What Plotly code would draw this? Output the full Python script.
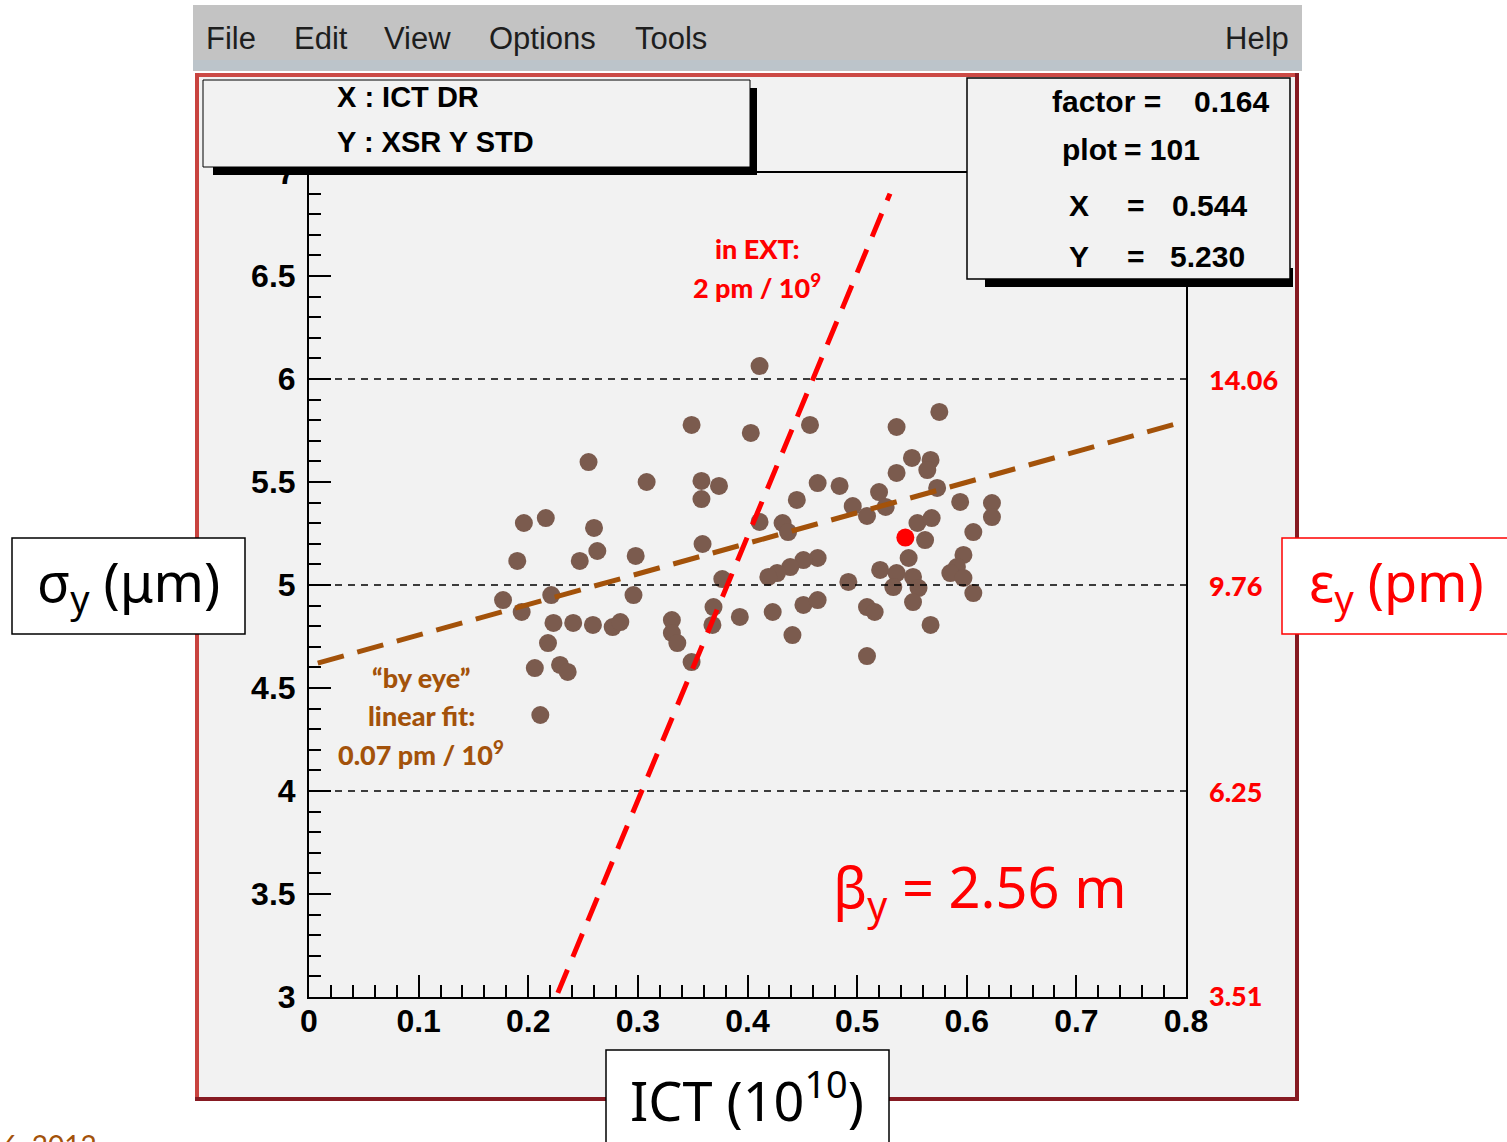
import plotly.graph_objects as go

# ---- data -------------------------------------------------------------
ict = [0.411, 0.349, 0.403, 0.457, 0.536, 0.575, 0.255, 0.308, 0.358, 0.374,
       0.358, 0.464, 0.484, 0.445, 0.520, 0.496, 0.509, 0.526, 0.536, 0.550,
       0.567, 0.564, 0.573, 0.594, 0.623, 0.623, 0.411, 0.432, 0.437, 0.555,
       0.568, 0.562, 0.606, 0.464, 0.451, 0.439, 0.427, 0.419, 0.547, 0.597,
       0.591, 0.585, 0.597, 0.606, 0.521, 0.536, 0.551, 0.556, 0.551, 0.492,
       0.533, 0.393, 0.423, 0.451, 0.464, 0.509, 0.516, 0.441, 0.567, 0.509,
       0.196, 0.216, 0.260, 0.190, 0.247, 0.263, 0.298, 0.359, 0.377, 0.177,
       0.194, 0.221, 0.296, 0.223, 0.241, 0.259, 0.277, 0.284, 0.218, 0.331,
       0.331, 0.336, 0.369, 0.368, 0.206, 0.229, 0.236, 0.349, 0.211]
sigma_y = [6.063, 5.777, 5.738, 5.777, 5.767, 5.840, 5.597, 5.500, 5.505, 5.481,
           5.417, 5.495, 5.481, 5.413, 5.451, 5.383, 5.335, 5.379, 5.544, 5.617,
           5.607, 5.558, 5.471, 5.403, 5.398, 5.330, 5.306, 5.301, 5.257, 5.301,
           5.325, 5.218, 5.257, 5.131, 5.121, 5.087, 5.058, 5.039, 5.131, 5.146,
           5.087, 5.058, 5.034, 4.961, 5.073, 5.058, 5.039, 4.985, 4.917, 5.015,
           4.990, 4.845, 4.869, 4.903, 4.927, 4.893, 4.869, 4.757, 4.806, 4.655,
           5.301, 5.325, 5.277, 5.117, 5.117, 5.165, 5.141, 5.199, 5.029, 4.927,
           4.869, 4.951, 4.951, 4.816, 4.816, 4.806, 4.796, 4.820, 4.718, 4.830,
           4.767, 4.718, 4.893, 4.806, 4.597, 4.612, 4.578, 4.626, 4.369]

sel_x = [0.544]
sel_y = [5.230]

ext_x = [0.227, 0.530]          # in EXT: 2 pm / 1e9
ext_y = [3.02, 6.90]
fit_x = [0.008, 0.797]          # "by eye" linear fit
fit_y = [4.621, 5.791]

ref_sigma = [4, 5, 6]
beta_y = 2.56
eps_ticks = [3, 4, 5, 6]
eps_labels = ["3.51", "6.25", "9.76", "14.06"]

menu_items = ["File", "Edit", "View", "Options", "Tools"]
menu_x = [204, 292, 382, 487, 633]

# ---- geometry helpers (pixel -> paper) --------------------------------
W, H = 1507, 1142
L, R, T, B = 309, 1186, 173, 997


def px(x):
    return (x - L) / (R - L)


def py(y):
    return (B - y) / (B - T)


shapes = []
annos = []


def rect(x0, y0, x1, y1, fill=None, line=None, lw=0, layer="above"):
    shapes.append(dict(type="rect", xref="paper", yref="paper",
                       x0=px(x0), x1=px(x1), y0=py(y1), y1=py(y0),
                       fillcolor=fill or "rgba(0,0,0,0)",
                       line=dict(color=line or "rgba(0,0,0,0)", width=lw),
                       layer=layer))


def seg(x0, y0, x1, y1, color, lw, layer="above"):
    shapes.append(dict(type="line", xref="paper", yref="paper",
                       x0=px(x0), x1=px(x1), y0=py(y0), y1=py(y1),
                       line=dict(color=color, width=lw), layer=layer))


def text(s, x, y, size, color="black", family="Liberation Sans",
         weight="normal", xanchor="left", yanchor="middle"):
    annos.append(dict(text=s, x=px(x), y=py(y), xref="paper", yref="paper",
                      xanchor=xanchor, yanchor=yanchor, showarrow=False,
                      font=dict(size=size, color=color, family=family,
                                weight=weight)))


# canvas + menu bar
rect(193, 5, 1302, 71, fill="#c3c3c3", layer="below")
rect(193, 60, 1302, 70, fill="#bcc4ca", layer="below")
rect(195, 73, 1299, 1101, fill="#f2f2f2", layer="below")
seg(195, 75, 1299, 75, "#cc4a45", 4)
seg(197, 73, 197, 1101, "#c8433f", 4)
seg(1297, 73, 1297, 1101, "#861a22", 4)
seg(195, 1099, 1299, 1099, "#861a22", 4)

for s, x in zip(menu_items, menu_x):
    text(s, x, 39, 31, color="#1e1e1e")
text("Help", 1291, 39, 31, color="#1e1e1e", xanchor="right")

# info boxes
rect(213, 88, 757, 175, fill="black")
rect(203, 80, 750, 167, fill="#f2f2f2", line="black", lw=1)
text("X : ICT DR", 335, 97, 29, weight="bold")
text("Y : XSR Y STD", 335, 142, 29, weight="bold")

rect(985, 268, 1293, 287, fill="black")
rect(967, 78, 1290, 279, fill="#f2f2f2", line="black", lw=1.5)
text("factor =", 1050, 101, 30, weight="bold")
text("0.164", 1192, 101, 30, weight="bold")
text("plot", 1060, 149, 30, weight="bold")
text("= 101", 1122, 149, 30, weight="bold")
text("X", 1067, 205, 30, weight="bold")
text("=", 1125, 205, 30, weight="bold")
text("0.544", 1170, 205, 30, weight="bold")
text("Y", 1067, 256, 30, weight="bold")
text("=", 1125, 256, 30, weight="bold")
text("5.230", 1168, 256, 30, weight="bold")

# emittance scale on the right: eps = sigma^2 / beta
for yv, lab in zip(eps_ticks, eps_labels):
    ypix = B - (yv - 3) * (B - T) / 4
    if yv == 3:
        ypix -= 2
    text(lab, 1207, ypix, 27, color="#ff0000", family="Lato", weight=900)

# annotations inside the frame
text("in EXT:", 757, 248, 27, color="#ff0000", family="Lato", weight=900,
     xanchor="center")
text("2 pm / 10<sup>9</sup>", 757, 286, 27, color="#ff0000", family="Lato",
     weight=900, xanchor="center")
brown = "#a3520a"
text("\u201cby eye\u201d", 421, 677, 27, color=brown, family="Lato",
     weight=900, xanchor="center")
text("linear fit:", 421, 715, 27, color=brown, family="Lato", weight=900,
     xanchor="center")
text("0.07 pm / 10<sup>9</sup>", 421, 753, 27, color=brown, family="Lato",
     weight=900, xanchor="center")
text("\u03b2<sub>y</sub> = %.2f m" % beta_y, 831, 889, 56, color="#ff0000",
     family="Noto Sans")

# axis title boxes
rect(12, 538, 245, 634, fill="white", line="black", lw=1.5)
text("\u03c3<sub>y</sub> (\u03bcm)", 128, 584, 54, family="Noto Sans",
     xanchor="center")
rect(1282, 538, 1515, 634, fill="white", line="#ff0000", lw=1.5)
text("\u03b5<sub>y</sub> (pm)", 1396, 584, 54, color="#ff0000",
     family="Noto Sans", xanchor="center")
rect(606, 1050, 889, 1150, fill="white", line="black", lw=1.5)
text("ICT (10<sup>10</sup>)", 747, 1097, 54, family="Noto Sans",
     xanchor="center")

# footer
text("6, 2012", 0, 1126, 28, color="#a3520a", family="Lato",
     yanchor="top")

# ---- traces ------------------------------------------------------------
fig = go.Figure()
fig.add_trace(go.Scatter(x=ict, y=sigma_y, mode="markers",
                         marker=dict(color="#7b5b4e", size=18,
                                     line=dict(width=0))))
for yv in ref_sigma:
    fig.add_trace(go.Scatter(x=[0, 0.8], y=[yv, yv], mode="lines",
                             line=dict(color="black", width=1.5,
                                       dash="7px,6px")))
fig.add_trace(go.Scatter(x=fit_x, y=fit_y, mode="lines",
                         line=dict(color=brown, width=5, dash="27px,14px")))
fig.add_trace(go.Scatter(x=ext_x, y=ext_y, mode="lines",
                         line=dict(color="#ff0000", width=5,
                                   dash="25px,14px")))
fig.add_trace(go.Scatter(x=sel_x, y=sel_y, mode="markers",
                         marker=dict(color="#ff0000", size=18,
                                     line=dict(width=0))))

tickfont = dict(family="Liberation Sans", size=32, color="black",
                weight="bold")
fig.update_xaxes(range=[0, 0.8], dtick=0.1, tick0=0, ticks="inside",
                 ticklen=22, tickwidth=2, tickcolor="black",
                 showline=True, linewidth=2, linecolor="black", mirror=True,
                 showgrid=False, zeroline=False, tickfont=tickfont,
                 ticklabelstandoff=-5,
                 minor=dict(dtick=0.02, ticks="inside", ticklen=12,
                            tickwidth=2, tickcolor="black", showgrid=False))
fig.update_yaxes(range=[3, 7], dtick=0.5, tick0=3, ticks="inside",
                 ticklen=22, tickwidth=2, tickcolor="black",
                 showline=True, linewidth=2, linecolor="black", mirror=True,
                 showgrid=False, zeroline=False, tickfont=tickfont,
                 ticklabelstandoff=5,
                 minor=dict(dtick=0.1, ticks="inside", ticklen=12,
                            tickwidth=2, tickcolor="black", showgrid=False))

fig.update_layout(width=W, height=H, showlegend=False,
                  margin=dict(l=L, r=W - R, t=T, b=H - B, pad=0),
                  paper_bgcolor="white", plot_bgcolor="#f2f2f2",
                  shapes=shapes, annotations=annos)

fig.write_html("out.html")
